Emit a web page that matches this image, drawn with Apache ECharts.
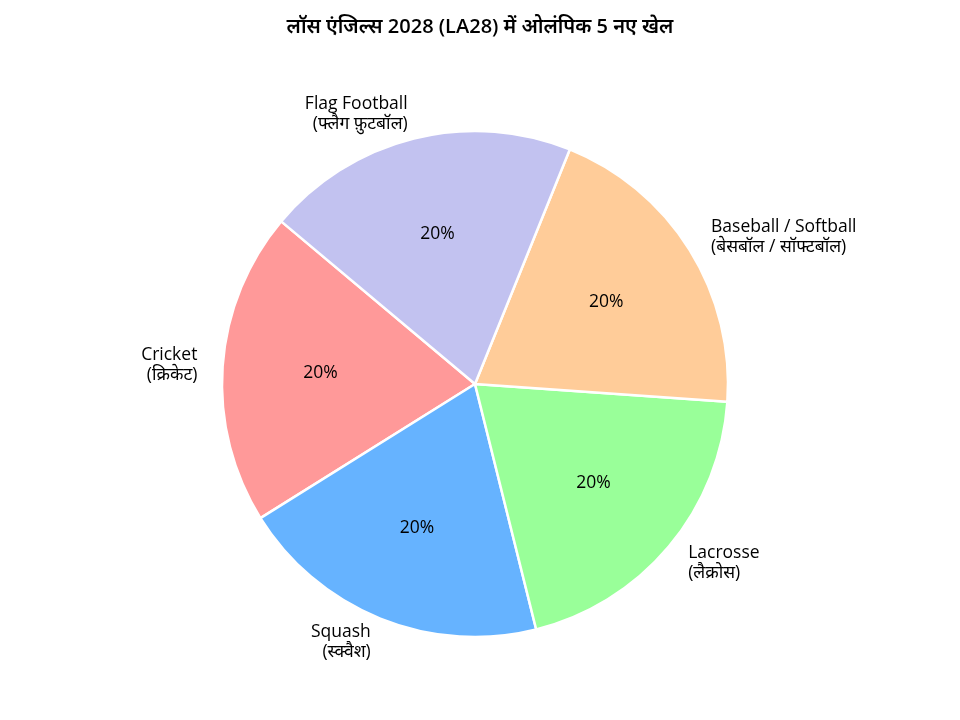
<!DOCTYPE html>
<html>
<head>
<meta charset="utf-8">
<script src="https://cdn.jsdelivr.net/npm/echarts@6/dist/echarts.min.js"></script>
<style>html,body{margin:0;padding:0;background:#fff}#c{width:960px;height:720px}</style>
</head>
<body>
<div id="c"></div>
<script>
const titleText = 'लॉस एंजिल्स 2028 (LA28) में ओलंपिक 5 नए खेल';
const categories = [
  'Cricket\n(क्रिकेट)',
  'Squash\n(स्क्वैश)',
  'Lacrosse\n(लैक्रोस)',
  'Baseball / Softball\n(बेसबॉल / सॉफ्टबॉल)',
  'Flag Football\n(फ्लैग फ़ुटबॉल)'
];
const values = [1, 1, 1, 1, 1];
const colors = ['#ff9999', '#66b3ff', '#99ff99', '#ffcc99', '#c2c2f0'];

const FONT = '"Open Sans", Roboto, "Noto Sans", sans-serif';
const R = 253;
const CENTER = [475, 384];

const chart = echarts.init(document.getElementById('c'), null, {renderer: 'canvas'});
const dataMain = categories.map((n, i) => ({name: n, value: values[i], itemStyle: {color: colors[i]}}));
const dataPct = categories.map((n, i) => ({name: n, value: values[i]}));

chart.setOption({
  backgroundColor: '#ffffff',
  animation: false,
  title: {
    text: titleText,
    left: 'center',
    top: 12,
    textStyle: {fontFamily: FONT, fontSize: 20, fontWeight: 600, color: '#000'}
  },
  series: [
    {
      type: 'pie',
      center: CENTER,
      radius: [0, R],
      startAngle: 140,
      clockwise: false,
      avoidLabelOverlap: false,
      silent: true,
      data: dataMain,
      itemStyle: {borderColor: '#ffffff', borderWidth: 2.5},
      label: {
        show: true,
        position: 'outside',
        distanceToLabelLine: 0,
        fontFamily: FONT,
        fontSize: 17.5,
        lineHeight: 20,
        color: '#000',
        formatter: p => p.name
      },
      labelLine: {show: false, length: R * 0.1, length2: 0},
      emphasis: {disabled: true}
    },
    {
      type: 'pie',
      center: CENTER,
      radius: [0, R * 1.2],
      startAngle: 140,
      clockwise: false,
      avoidLabelOverlap: false,
      silent: true,
      z: 5,
      data: dataPct,
      itemStyle: {color: 'rgba(0,0,0,0)', borderWidth: 0},
      label: {
        show: true,
        position: 'inside',
        fontFamily: FONT,
        fontSize: 17.5,
        color: '#000',
        formatter: p => Math.round(p.percent) + '%'
      },
      labelLine: {show: false},
      emphasis: {disabled: true}
    }
  ]
});
</script>
</body>
</html>
